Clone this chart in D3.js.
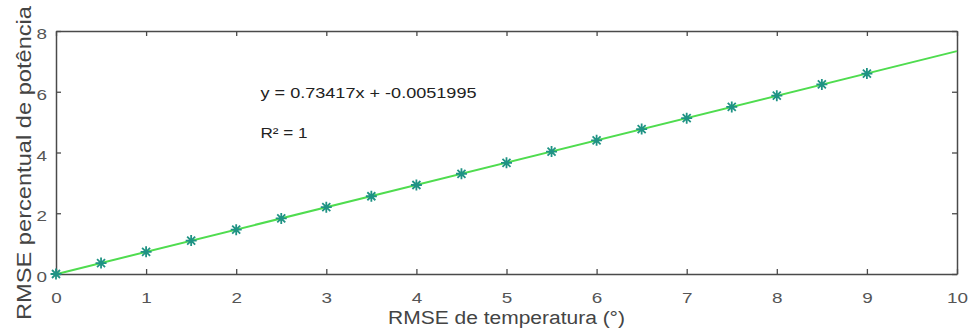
<!DOCTYPE html>
<html>
<head>
<meta charset="utf-8">
<script src="https://cdn.jsdelivr.net/npm/d3@7"></script>
<style>
  body { margin: 0; background: #fff; }
  text { font-family: "Liberation Sans", Arial, sans-serif; }
</style>
</head>
<body>
<svg id="chart" width="969" height="334"></svg>
<script>
// data
const xVals = [0, 0.5, 1, 1.5, 2, 2.5, 3, 3.5, 4, 4.5, 5, 5.5, 6, 6.5, 7, 7.5, 8, 8.5, 9];
const yVals = [0, 0.36, 0.73, 1.10, 1.46, 1.83, 2.20, 2.56, 2.93, 3.30, 3.66, 4.03, 4.40, 4.77, 5.13, 5.50, 5.87, 6.24, 6.60];
const fitX = [0, 10];
const fitY = [-0.0051995, 7.3365];
const xTicks = [0, 1, 2, 3, 4, 5, 6, 7, 8, 9, 10];
const yTicks = [0, 2, 4, 6, 8];
const eqText = "y = 0.73417x + -0.0051995";
const r2Text = "R² = 1";

const svg = d3.select("#chart");
const margin = { top: 31, right: 12, bottom: 60, left: 56 };
const width = +svg.attr("width");
const height = +svg.attr("height");
const innerWidth = width - margin.left - margin.right;
const innerHeight = height - margin.top - margin.bottom;

const g = svg.append("g").attr("transform", `translate(${margin.left},${margin.top})`);
const xScale = d3.scaleLinear().domain([0, 10]).range([0, innerWidth]);
const yScale = d3.scaleLinear().domain([0, 8]).range([innerHeight, 0]);

const axisColor = "#4a4a4a";
const labelColor = "#555";

// axes, ticks inside, box all round
const xAxis = g.append("g").attr("transform", `translate(0,${innerHeight})`)
    .call(d3.axisBottom(xScale).tickValues(xTicks).tickSizeInner(-5).tickSizeOuter(0).tickPadding(18));
const xTop = g.append("g")
    .call(d3.axisTop(xScale).tickValues(xTicks).tickSizeInner(-5).tickSizeOuter(0).tickFormat(""));
const yAxis = g.append("g")
    .call(d3.axisLeft(yScale).tickValues(yTicks).tickSizeInner(-5).tickSizeOuter(0).tickPadding(9));
const yRight = g.append("g").attr("transform", `translate(${innerWidth},0)`)
    .call(d3.axisRight(yScale).tickValues(yTicks).tickSizeInner(-5).tickSizeOuter(0).tickFormat(""));

[xAxis, xTop, yAxis, yRight].forEach(a => {
    a.attr("font-size", 15).attr("font-family", "Liberation Sans, Arial, sans-serif");
    a.select(".domain").attr("stroke", axisColor).attr("stroke-width", 1.5);
    a.selectAll(".tick line").attr("stroke", axisColor).attr("stroke-width", 1.3);
    a.selectAll(".tick text").attr("fill", labelColor);
});
// the picture is a little stretched sideways, so widen the digits
[xAxis, yAxis].forEach(a => {
    a.selectAll(".tick text")
        .attr("textLength", t => String(t).length * 10.5)
        .attr("lengthAdjust", "spacingAndGlyphs");
});
yAxis.selectAll(".tick text").attr("dy", "0.5em");

// fit line
const fitData = fitX.map((x, i) => ({ x: x, y: fitY[i] }));
const line = d3.line().x(d => xScale(d.x)).y(d => yScale(d.y));
g.append("path")
    .datum(fitData)
    .attr("fill", "none")
    .attr("stroke", "#4fdc4f")
    .attr("stroke-width", 2)
    .attr("d", line);

// asterisk markers
const pts = xVals.map((x, i) => ({ x: x, y: yVals[i] }));
const s = 5.5, d = 4;
const star = `M${-s},0L${s},0M0,${-s}L0,${s}M${-d},${-d}L${d},${d}M${-d},${d}L${d},${-d}`;
g.selectAll(".pt")
    .data(pts)
    .enter()
    .append("path")
    .attr("class", "pt")
    .attr("transform", p => `translate(${xScale(p.x)},${yScale(p.y)})`)
    .attr("d", star)
    .attr("fill", "none")
    .attr("stroke", "#1f9384")
    .attr("stroke-width", 1.8);

// annotation
g.append("text")
    .attr("x", xScale(2.27))
    .attr("y", yScale(5.79))
    .attr("fill", "#222")
    .attr("textLength", 216)
    .attr("lengthAdjust", "spacingAndGlyphs")
    .style("font-size", "14px")
    .text(eqText);
g.append("text")
    .attr("x", xScale(2.27))
    .attr("y", yScale(4.48))
    .attr("fill", "#222")
    .attr("textLength", 47)
    .attr("lengthAdjust", "spacingAndGlyphs")
    .style("font-size", "14px")
    .text(r2Text);

// axis titles
svg.append("text")
    .attr("x", margin.left + innerWidth / 2)
    .attr("y", 324)
    .attr("text-anchor", "middle")
    .attr("fill", "#444")
    .attr("textLength", 237)
    .attr("lengthAdjust", "spacingAndGlyphs")
    .style("font-size", "18px")
    .text("RMSE de temperatura (°)");

svg.append("text")
    .attr("transform", "rotate(-90)")
    .attr("x", -163)
    .attr("y", 31)
    .attr("text-anchor", "middle")
    .attr("fill", "#444")
    .attr("textLength", 314)
    .attr("lengthAdjust", "spacingAndGlyphs")
    .style("font-size", "21px")
    .text("RMSE percentual de potência");
</script>
</body>
</html>
